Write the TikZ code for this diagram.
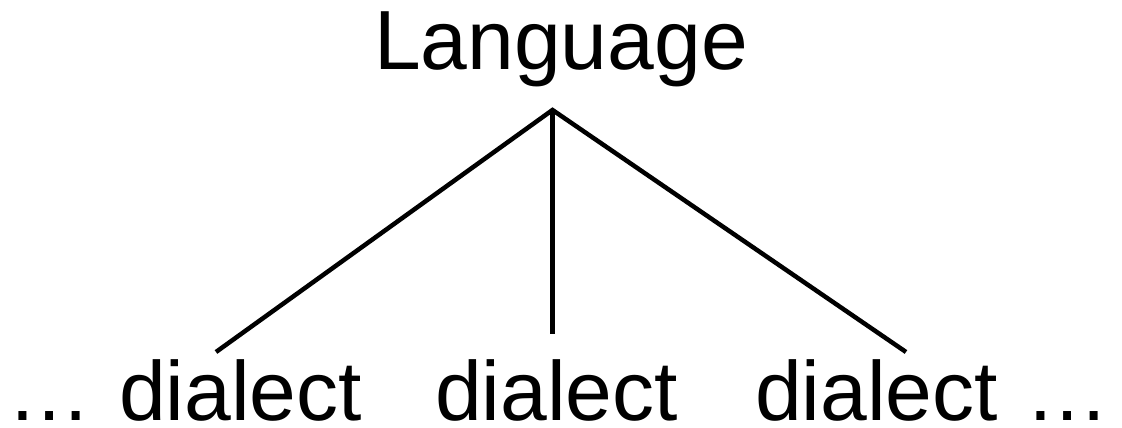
\documentclass[tikz,border=0pt]{standalone}
\usepackage{fontspec}
\setmainfont{Liberation Sans}
\begin{document}
\begin{tikzpicture}[x=1pt,y=-1pt,
  lbl/.style={inner sep=0pt,outer sep=0pt,anchor=base west,font=\fontsize{84}{84}\selectfont},
  branch/.style={line width=4.5pt,line cap=butt}]
\useasboundingbox (0,0) rectangle (1122,428);
\node[lbl,anchor=base] (lang) at (561,70) {Language};
\coordinate (apex) at (552.5,110);
\coordinate (lend) at (216,352);
\coordinate (mend) at (552.5,334);
\coordinate (rend) at (906,352);
\node[lbl] (ell1) at (8,420) {…};
\node[lbl] (d1) at (119,420) {dialect};
\node[lbl] (d2) at (435,420) {dialect};
\node[lbl] (d3) at (755,420) {dialect};
\node[lbl] (ell2) at (1025,420) {…};
\draw[branch] (lend) -- (apex) -- (rend);
\draw[branch] (apex) -- (mend);
\end{tikzpicture}
\end{document}
